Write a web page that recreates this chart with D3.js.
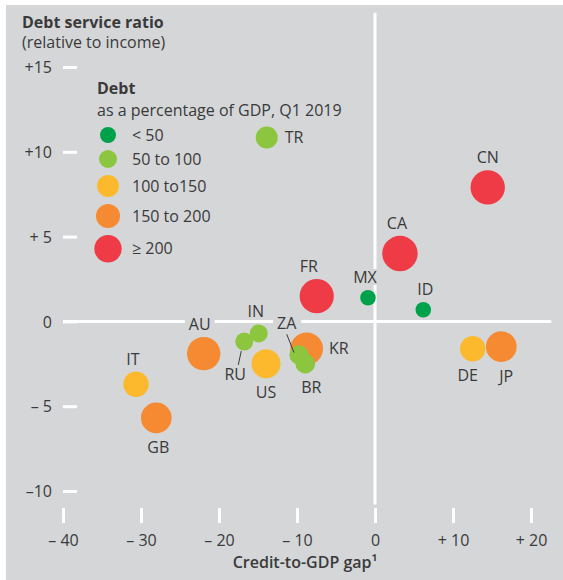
<!DOCTYPE html>
<html>
<head>
<meta charset="utf-8">
<script src="https://cdn.jsdelivr.net/npm/d3@7"></script>
<style>
  body { margin: 0; background: #fff; }
  svg text { font-family: "Open Sans", "Noto Sans", sans-serif; fill: #3a3a3a; }
</style>
</head>
<body>
<div id="chart"></div>
<script>
// Values
var countries   = ["CN", "CA", "FR", "KR", "AU", "JP", "GB", "US", "DE", "IT", "TR", "ZA", "BR", "RU", "IN", "MX", "ID"];
var creditGap   = [14.45, 3.2, -7.47, -8.76, -21.96, 16.19, -28.04, -13.97, 12.53, -30.64, -13.88, -9.74, -8.94, -16.76, -14.91, -0.9, 6.19];
var debtService = [7.9, 4.0, 1.49, -1.61, -1.9, -1.49, -5.69, -2.49, -1.61, -3.71, 10.84, -1.98, -2.49, -1.19, -0.71, 1.39, 0.69];
var debtToGdp   = [205, 218, 202, 185, 194, 163, 163, 146, 112, 112, 84, 65, 67, 56, 56, 42, 42];

var debtBands   = ["< 50", "50 to 100", "100 to150", "150 to 200", "\u2265 200"];
var bandLimits  = [50, 100, 150, 200];
var xTicks = [-40, -30, -20, -10, 0, 10, 20];
var yTicks = [-10, -5, 0, 5, 10, 15];

var width = 563, height = 580;
var bg = "#d5d6d8";
var bandColors = ["#00a14b", "#8cc63e", "#fdb92d", "#f58a33", "#ee3b46"];
var fs = 16;

var svg = d3.select("#chart").append("svg")
    .attr("width", width)
    .attr("height", height);

svg.append("rect")
    .attr("x", 6).attr("y", 5)
    .attr("width", width - 6).attr("height", height - 5)
    .attr("fill", bg);

var x = d3.scaleLinear().domain([-40, 20]).range([63, 531]);
var y = d3.scaleLinear().domain([-10, 15]).range([491, 67]);
var r = d3.scaleSqrt().domain([0, 200]).range([0, 16.97]);
var color = d3.scaleThreshold().domain(bandLimits).range(bandColors);

function dash(v) { return v < 0 ? "\u2013" : "+"; }

// y axis
var yAxis = d3.axisLeft(y)
    .tickValues(yTicks)
    .tickSize(14)
    .tickPadding(11)
    .tickFormat(function(d) {
      if (d === 0) return "0";
      var a = Math.abs(d);
      return a < 10 ? dash(d) + " " + a : dash(d) + a;
    });

var gy = svg.append("g").attr("transform", "translate(77,0)").call(yAxis);
gy.select(".domain").remove();
gy.selectAll(".tick line").attr("stroke", "#fff").attr("stroke-width", 3);
gy.selectAll(".tick text").attr("font-size", fs).attr("fill", "#3a3a3a")
    .attr("font-family", null).attr("dy", "0.35em");

// x axis
var xAxis = d3.axisBottom(x)
    .tickValues(xTicks)
    .tickSize(15)
    .tickFormat(function(d) { return d === 0 ? "0" : dash(d) + " " + Math.abs(d); });

var gx = svg.append("g").attr("transform", "translate(0,508)").call(xAxis);
gx.select(".domain").remove();
gx.selectAll(".tick line").attr("stroke", "#fff").attr("stroke-width", 3);
gx.selectAll(".tick text").attr("font-size", fs).attr("fill", "#3a3a3a")
    .attr("font-family", null).attr("y", 38).attr("dy", null);

// zero lines
svg.append("line")
    .attr("x1", x(-40)).attr("x2", x(22.6))
    .attr("y1", y(0)).attr("y2", y(0))
    .attr("stroke", "#fff").attr("stroke-width", 3);
svg.append("line")
    .attr("x1", x(0)).attr("x2", x(0))
    .attr("y1", y(18.2)).attr("y2", y(-10.8))
    .attr("stroke", "#fff").attr("stroke-width", 3);

// titles
svg.append("text").attr("x", 22).attr("y", 28)
    .attr("font-size", fs).attr("font-weight", "bold").text("Debt service ratio");
svg.append("text").attr("x", 22).attr("y", 48)
    .attr("font-size", fs).text("(relative to income)");
svg.append("text").attr("x", 305).attr("y", 568).attr("text-anchor", "middle")
    .attr("font-size", fs).attr("font-weight", 600)
    .text("Credit-to-GDP gap\u00b9");

// legend
svg.append("text").attr("x", 97).attr("y", 94)
    .attr("font-size", fs).attr("font-weight", "bold").text("Debt");
svg.append("text").attr("x", 97).attr("y", 116)
    .attr("font-size", fs).text("as a percentage of GDP, Q1 2019");

var legendR = [8, 9, 11, 12, 13.7];
var cy = 135;
debtBands.forEach(function(label, i) {
  if (i > 0) cy += legendR[i - 1] + legendR[i] + 7;
  svg.append("circle").attr("cx", 108).attr("cy", cy).attr("r", legendR[i])
      .attr("fill", bandColors[i]);
  svg.append("text").attr("x", 132).attr("y", cy).attr("dy", "0.35em")
      .attr("font-size", fs).text(label);
});

// bubbles
var data = countries.map(function(c, i) {
  return { name: c, gap: creditGap[i], dsr: debtService[i], debt: debtToGdp[i] };
});

svg.append("g").selectAll("circle")
    .data(data.slice().sort(function(a, b) { return b.debt - a.debt; }))
  .enter().append("circle")
    .attr("cx", function(d) { return x(d.gap); })
    .attr("cy", function(d) { return y(d.dsr); })
    .attr("r", function(d) { return r(d.debt); })
    .attr("fill", function(d) { return color(d.debt); });

// label placement around each bubble
var labelPos = {
  CN: ["top", 0], CA: ["top", -3], FR: ["top", -8], MX: ["top", -3], ID: ["top", 2],
  AU: ["top", -4], IT: ["top", -3], IN: ["top", -3],
  DE: ["bottom", -5], JP: ["bottom", 5], GB: ["bottom", 2], US: ["bottom", 0], BR: ["bottom", 6],
  TR: ["right", 0], KR: ["right", -1],
  RU: ["ru", 0], ZA: ["za", 0]
};

var labels = svg.append("g");
data.forEach(function(d) {
  var cx = x(d.gap), cyy = y(d.dsr), rr = r(d.debt);
  var p = labelPos[d.name], lx, ly, anchor = "middle";
  if (p[0] === "top") { lx = cx + p[1]; ly = cyy - rr - 7; }
  else if (p[0] === "bottom") { lx = cx + p[1]; ly = cyy + rr + 20; }
  else if (p[0] === "right") { lx = cx + rr + 7 + p[1]; ly = cyy + 5; anchor = "start"; }
  else if (p[0] === "ru") {
    lx = cx - 9; ly = cyy + rr + 29;
    labels.append("line").attr("x1", cx - 3).attr("y1", cyy + 9.4)
        .attr("x2", cx - 6).attr("y2", cyy + 23.4)
        .attr("stroke", "#3a3a3a").attr("stroke-width", 1);
  } else {
    lx = cx - 12.3; ly = cyy - 26.4;
    labels.append("line").attr("x1", cx - 12.3).attr("y1", cyy - 20.7)
        .attr("x2", cx - 5).attr("y2", cyy - 2.4)
        .attr("stroke", "#3a3a3a").attr("stroke-width", 1);
  }
  var g = labels.append("g");
  var t = g.append("text").attr("x", lx).attr("y", ly)
      .attr("text-anchor", anchor).attr("font-size", fs).text(d.name);
  var b = t.node().getBBox();
  g.insert("rect", "text")
      .attr("x", b.x - 4).attr("y", b.y + 3)
      .attr("width", b.width + 8).attr("height", b.height - 6)
      .attr("fill", bg);
});
</script>
</body>
</html>
